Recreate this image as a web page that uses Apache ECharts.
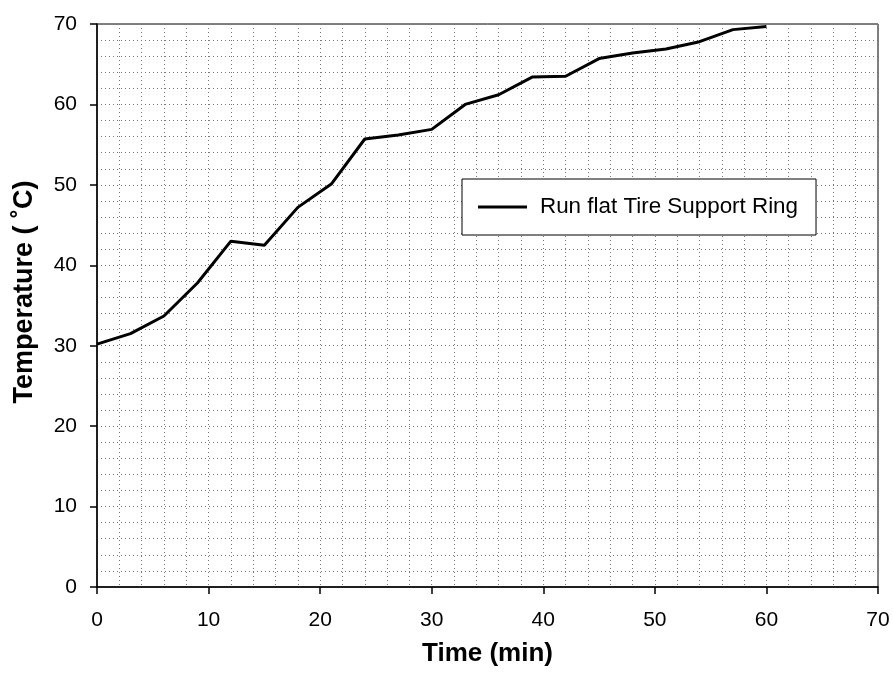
<!DOCTYPE html>
<html lang="en">
<head>
    <meta charset="UTF-8">
    <title>Run flat Tire Support Ring</title>
    <script src="https://cdn.jsdelivr.net/npm/echarts@6/dist/echarts.min.js"></script>
    <style>
        html, body {margin: 0; padding: 0; background: #fff;}
    </style>
</head>
<body>
<div id="main" style="width:893px;height:673px;"></div>
<script type="text/javascript">
    // time (min) and temperature (°C)
    var times = [0, 3, 6, 9, 12, 15, 18, 21, 24, 27, 30, 33, 36, 39, 42, 45, 48, 51, 54, 57, 60];
    var temps = [30.2, 31.5, 33.7, 37.8, 43.0, 42.5, 47.2, 50.1, 55.7, 56.2, 56.9, 60.0, 61.2, 63.4, 63.5, 65.7, 66.4, 66.9, 67.8, 69.3, 69.7];
    var seriesName = 'Run flat Tire Support Ring';

    var points = [];
    for (var i = 0; i < times.length; i++) {
        points.push([times[i], temps[i]]);
    }

    var font = 'Liberation Sans, Arial, sans-serif';
    var dots = {color: '#777', width: 1, type: [1, 3]};

    var myChart = echarts.init(document.getElementById('main'));
    var option = {
        animation: false,
        textStyle: {fontFamily: font, color: '#000'},
        grid: {
            left: 97, top: 24, width: 781, height: 563,
            show: true, borderColor: '#000', borderWidth: 1, backgroundColor: 'transparent'
        },
        legend: {
            left: 462, top: 179,
            padding: [17, 18, 17, 16],
            backgroundColor: '#fff',
            borderColor: '#000', borderWidth: 1, borderRadius: 0,
            icon: 'rect',
            itemWidth: 49, itemHeight: 3, itemGap: 13,
            textStyle: {fontFamily: font, fontSize: 22.4, color: '#000', padding: [0, 0, 0, 8]},
            data: [seriesName]
        },
        xAxis: {
            type: 'value', min: 0, max: 70, interval: 10,
            name: 'Time (min)', nameLocation: 'middle', nameGap: 54,
            nameTextStyle: {fontFamily: font, fontSize: 26, fontWeight: 'bold', color: '#000'},
            axisLine: {onZero: false, lineStyle: {color: '#000', width: 1.5}},
            axisTick: {length: 7, lineStyle: {color: '#000', width: 1.5}},
            axisLabel: {fontSize: 21, color: '#000', margin: 23},
            splitLine: {lineStyle: dots},
            minorTick: {show: false, splitNumber: 5},
            minorSplitLine: {show: true, lineStyle: dots}
        },
        yAxis: {
            type: 'value', min: 0, max: 70, interval: 10,
            name: 'Temperature ( ˚C)', nameLocation: 'middle', nameGap: 59,
            nameTextStyle: {fontFamily: font, fontSize: 27, fontWeight: 'bold', color: '#000', padding: [0, 0, 0, 27]},
            axisLine: {show: true, onZero: false, lineStyle: {color: '#000', width: 1.5}},
            axisTick: {show: true, length: 7, lineStyle: {color: '#000', width: 1.5}},
            axisLabel: {fontSize: 21, color: '#000', margin: 20},
            splitLine: {lineStyle: dots},
            minorTick: {show: false, splitNumber: 5},
            minorSplitLine: {show: true, lineStyle: dots}
        },
        series: [
            {
                name: seriesName,
                type: 'line',
                symbol: 'none',
                data: points,
                lineStyle: {color: '#000', width: 3},
                itemStyle: {color: '#000'}
            }
        ]
    };
    myChart.setOption(option);
</script>
</body>
</html>
